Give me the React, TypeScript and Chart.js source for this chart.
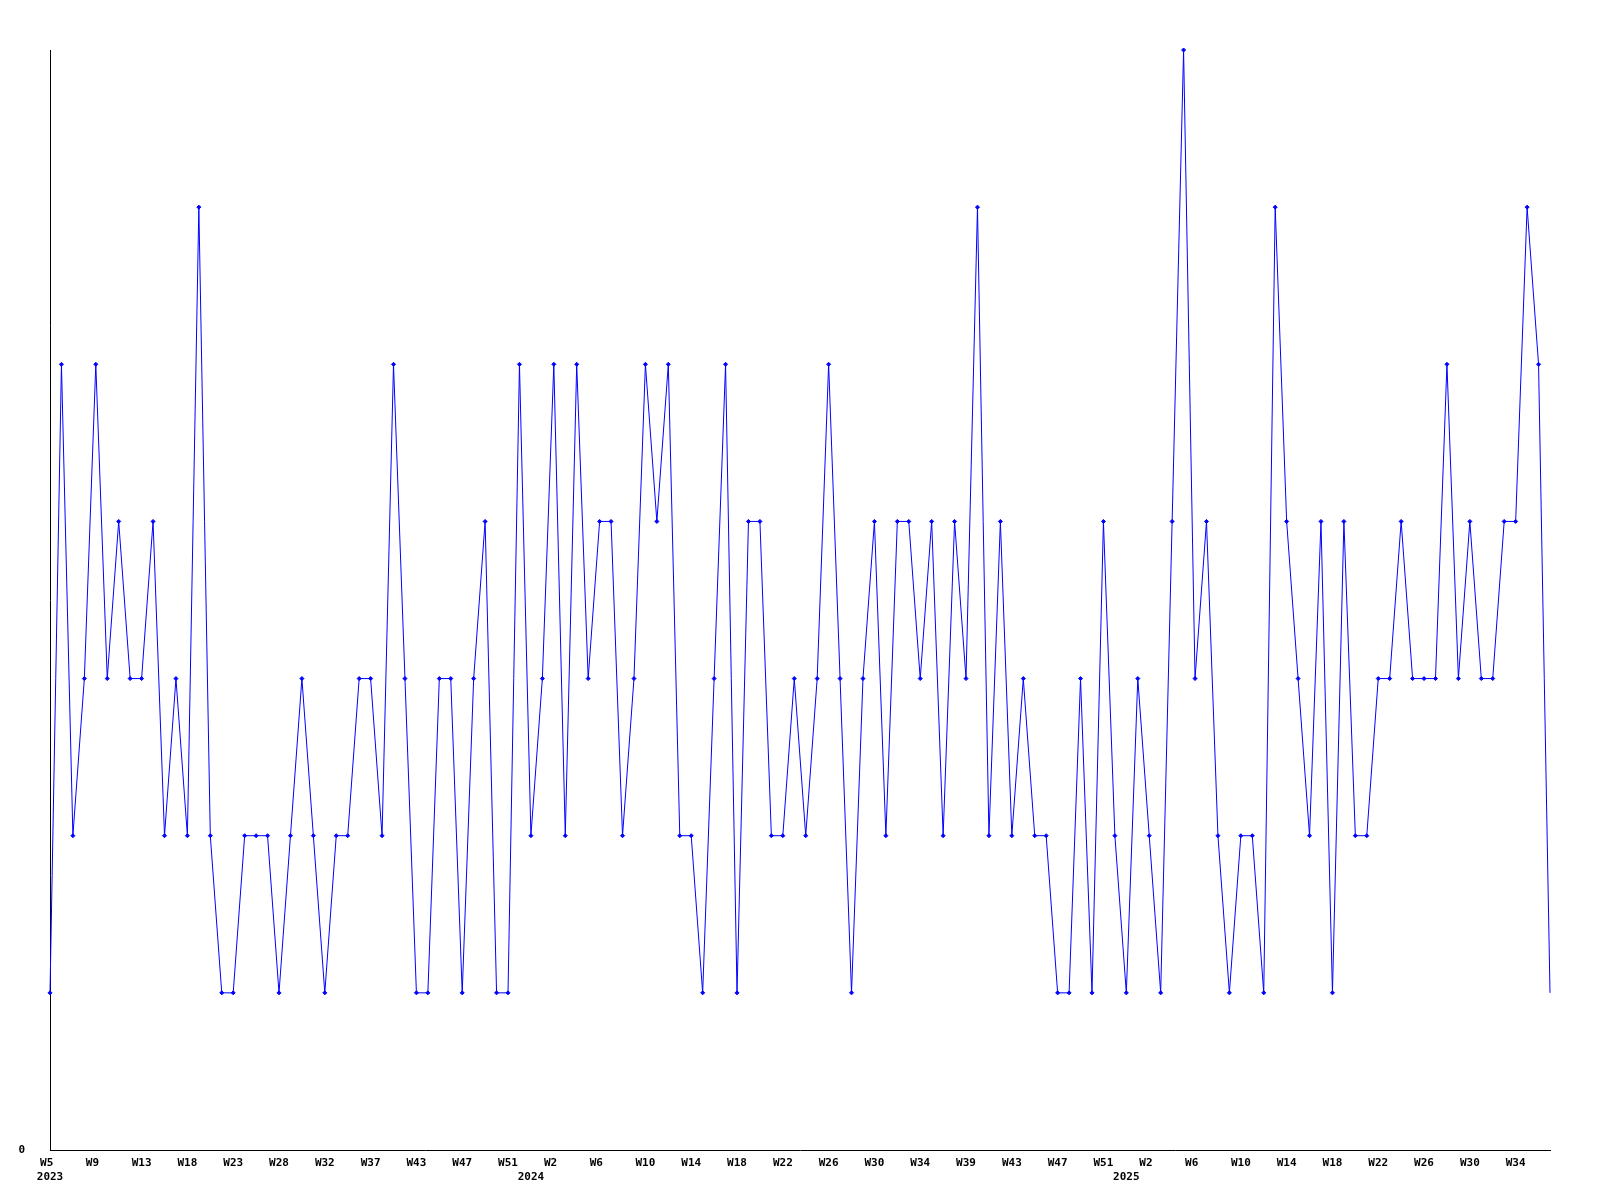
import React, { useEffect, useRef } from "react";
import { Chart, registerables } from "chart.js";

Chart.register(...registerables);

// Week numbers of each data point, per year (some weeks have no data)
const weeks2023 = [5, 6, 7, 8, 9, 10, 11, 12, 13, 14, 15, 17, 18, 19, 20, 22, 23, 24, 25, 27, 28, 29, 30, 31, 32, 33, 34, 36, 37, 38, 40, 42, 43, 44, 45, 46, 47, 48, 49, 50, 51, 52];
const weeks2024 = [0, 1, 2, 3, 4, 5, 6, 7, 8, 9, 10, 11, 12, 13, 14, 15, 16, 17, 18, 19, 20, 21, 22, 23, 24, 25, 26, 27, 28, 29, 30, 31, 32, 33, 34, 35, 36, 38, 39, 40, 41, 42, 43, 44, 45, 46, 47, 48, 49, 50, 51, 52];
const weeks2025 = [0, 1, 2, 3, 4, 5, 6, 7, 8, 9, 10, 11, 12, 13, 14, 15, 16, 17, 18, 19, 20, 21, 22, 23, 24, 25, 26, 27, 28, 29, 30, 31, 32, 33, 34, 35, 36, 37];

const categories: string[] = [
  ...weeks2023.map((w) => `2023-W${w}`),
  ...weeks2024.map((w) => `2024-W${w}`),
  ...weeks2025.map((w) => `2025-W${w}`),
];

const values = [
  1, 5, 2, 3, 5, 3, 4, 3, 3, 4, 2, 3, 2, 6, 2, 1, 1, 2, 2, 2, 1, 2, 3, 2, 1, 2, 2,
  3, 3, 2, 5, 3, 1, 1, 3, 3, 1, 3, 4, 1, 1, 5, 2, 3, 5, 2, 5, 3, 4, 4, 2, 3, 5,
  4, 5, 2, 2, 1, 3, 5, 1, 4, 4, 2, 2, 3, 2, 3, 5, 3, 1, 3, 4, 2, 4, 4, 3, 4, 2,
  4, 3, 6, 2, 4, 2, 3, 2, 2, 1, 1, 3, 1, 4, 2, 1, 3, 2, 1, 4, 7, 3, 4, 2, 1, 2,
  2, 1, 6, 4, 3, 2, 4, 1, 4, 2, 2, 3, 3, 4, 3, 3, 3, 5, 3, 4, 3, 3, 4, 4, 6, 5, 1,
];

const yTickValues = [0];
const labelEvery = 4;

const FONT = { family: "'DejaVu Sans Mono', 'Liberation Mono', monospace", size: 11, weight: "bold" as const, lineHeight: "14px" };

export default function App() {
  const ref = useRef<HTMLCanvasElement>(null);

  useEffect(() => {
    if (!ref.current) return;
    const chart = new Chart(ref.current, {
      type: "line",
      data: {
        labels: categories,
        datasets: [
          {
            data: values,
            borderColor: "#0000ff",
            borderWidth: 1,
            tension: 0,
            fill: false,
            pointStyle: "rectRot",
            pointRadius: (ctx: any) => (ctx.dataIndex === values.length - 1 ? 0 : 2),
            pointBackgroundColor: "#0000ff",
            pointBorderColor: "#0000ff",
            pointBorderWidth: 1,
            clip: false as any,
          },
        ],
      },
      options: {
        responsive: false,
        animation: false,
        devicePixelRatio: 1,
        layout: { padding: { top: 50, right: 50, left: 0, bottom: 0 } },
        plugins: { legend: { display: false }, tooltip: { enabled: false }, title: { display: false } },
        scales: {
          x: {
            type: "category",
            offset: false,
            grid: { display: false, drawTicks: false },
            border: { display: true, color: "#000000", width: 1 },
            ticks: {
              autoSkip: false,
              maxRotation: 0,
              minRotation: 0,
              padding: 6,
              color: "#000000",
              font: FONT,
              callback: (_v: any, i: number) => {
                const [year, week] = categories[i].split("-");
                const prevYear = i > 0 ? categories[i - 1].split("-")[0] : null;
                const showWeek = i % labelEvery === 0;
                const showYear = year !== prevYear;
                if (!showWeek && !showYear) return "";
                const w = showWeek ? week.padEnd(3, " ") : "";
                return showYear ? [w, year] : w;
              },
            },
            afterFit: (s: any) => {
              s.height = 50;
            },
          },
          y: {
            min: 0,
            max: 7,
            grid: { display: false, drawTicks: false },
            border: { display: true, color: "#000000", width: 1 },
            ticks: { padding: 25, color: "#000000", font: FONT },
            afterBuildTicks: (s: any) => {
              s.ticks = yTickValues.map((v) => ({ value: v }));
            },
            afterFit: (s: any) => {
              s.width = 50;
            },
          },
        },
      },
    });
    return () => chart.destroy();
  }, []);

  return (
    <div style={{ position: "absolute", left: 0, top: 0, width: 1600, height: 1200, background: "#ffffff" }}>
      <canvas ref={ref} width={1600} height={1200} style={{ display: "block" }} />
    </div>
  );
}
